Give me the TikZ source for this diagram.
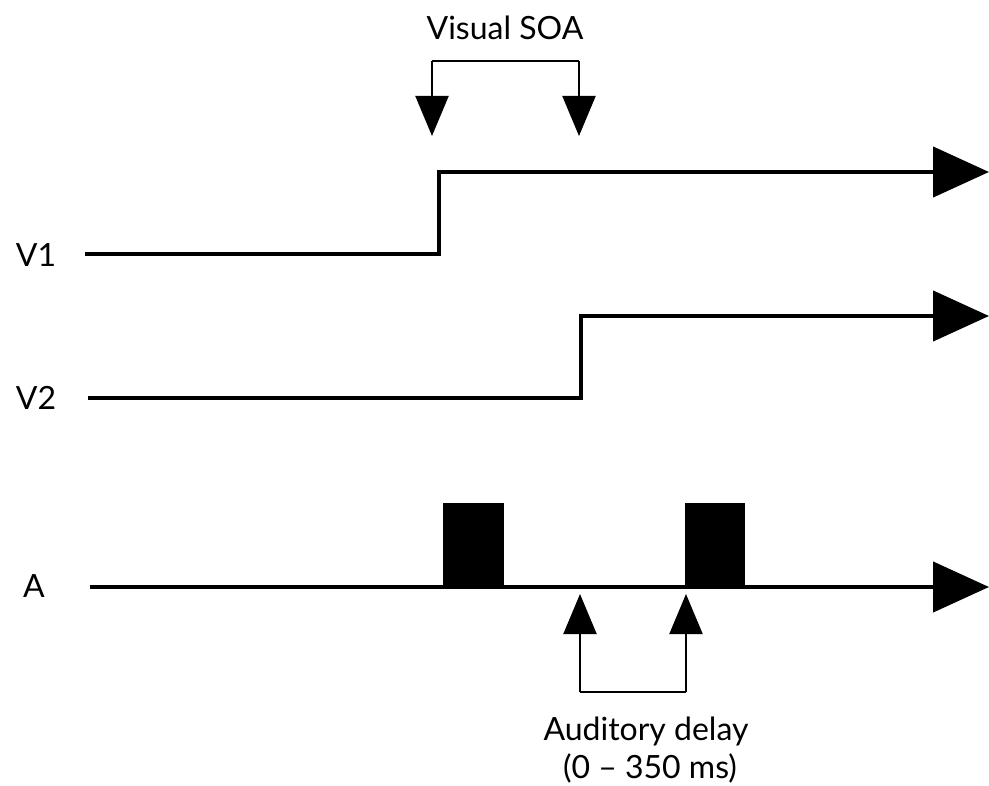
\documentclass[tikz,border=0pt]{standalone}
\usepackage{fontspec}
\setmainfont{Lato}
\usetikzlibrary{arrows.meta}
\tikzset{
  trace/.style={line width=4.5pt, line join=miter, -{Triangle[length=56pt,width=50pt]}},
  bracket/.style={line width=2pt, -{Triangle[length=40pt,width=33pt]}},
  lbl/.style={font=\fontsize{32}{36}\selectfont, inner sep=0pt},
  pulse/.style={fill=black, draw=none}
}
\begin{document}
\begin{tikzpicture}[x=1pt,y=-1pt]
  \useasboundingbox (0,0) rectangle (989,786);

  % channel labels
  \node[lbl] (v1lbl) at (36,255) {V1};
  \node[lbl] (v2lbl) at (36,398) {V2};
  \node[lbl] (albl)  at (34,586) {A};

  % V1 trace
  \coordinate (v1a) at (85,254);
  \coordinate (v1b) at (439,254);
  \coordinate (v1c) at (439,172);
  \coordinate (v1d) at (989,172);
  \draw[trace] (v1a) -- (v1b) -- (v1c) -- (v1d);

  % V2 trace
  \coordinate (v2a) at (88,398);
  \coordinate (v2b) at (581,398);
  \coordinate (v2c) at (581,316);
  \coordinate (v2d) at (989,316);
  \draw[trace] (v2a) -- (v2b) -- (v2c) -- (v2d);

  % A trace with two tone pulses
  \coordinate (aa) at (90,587);
  \coordinate (ad) at (989,587);
  \draw[trace] (aa) -- (ad);
  \fill[pulse] (443,503) rectangle (504,589);
  \fill[pulse] (685,503) rectangle (745,589);

  % visual SOA bracket
  \node[lbl] (soa) at (505,28) {Visual SOA};
  \coordinate (s1) at (432,136);
  \coordinate (s2) at (579,136);
  \draw[bracket] (432,61) -- (s1);
  \draw[bracket] (579,61) -- (s2);
  \draw[line width=2pt] (432,61) -- (579,61);

  % auditory delay bracket
  \node[lbl] (del) at (646,731) {Auditory delay};
  \node[lbl] (rng) at (650,768) {(0 -- 350 ms)};
  \coordinate (d1) at (580,594);
  \coordinate (d2) at (686,594);
  \draw[bracket] (580,692) -- (d1);
  \draw[bracket] (686,692) -- (d2);
  \draw[line width=2pt] (580,692) -- (686,692);
\end{tikzpicture}
\end{document}
